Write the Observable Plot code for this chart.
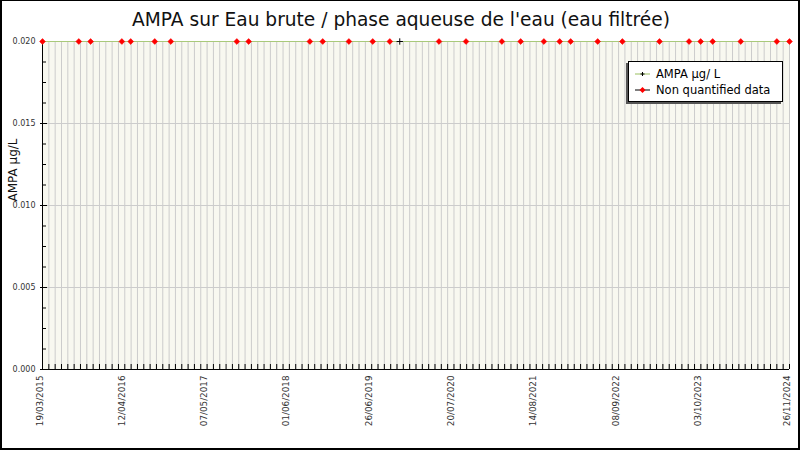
<!DOCTYPE html>
<html>
<head>
<meta charset="utf-8">
<script src="https://cdn.jsdelivr.net/npm/d3@7"></script>
<script src="https://cdn.jsdelivr.net/npm/@observablehq/plot@0.6"></script>
<style>
  html, body { margin: 0; padding: 0; background: white; }
  #wrap { position: relative; width: 800px; height: 450px; overflow: hidden; font-family: "DejaVu Sans", sans-serif; }
  #border { position: absolute; left: 0; top: 0; width: 800px; height: 450px; box-sizing: border-box; border: 2px solid #000; border-top-width: 1px; pointer-events: none; }
  #legend { position: absolute; left: 628px; top: 61px; width: 155px; height: 41px; box-sizing: border-box;
    background: #fff; border: 1px solid #000; box-shadow: -2px 2px 0 #555; font-size: 11.5px; color: #000; }
  .row { position: absolute; left: 5px; height: 14px; display: flex; align-items: center; white-space: nowrap; }
  .row svg { margin-right: 5px; }
</style>
</head>
<body>
<div id="wrap"></div>
<script>
// ---- data ----
const chartTitle = "AMPA sur Eau brute / phase aqueuse de l'eau (eau filtrée)";
const yLabel = "AMPA µg/L";
const seriesName = "AMPA µg/ L";
const nqName = "Non quantified data";

const sampleDates = [
  "2015-03-19","2015-09-07","2015-11-02","2016-03-29","2016-05-10","2016-09-01","2016-11-16",
  "2017-09-25","2017-11-20","2018-09-06","2018-11-06","2019-03-10","2019-07-01","2019-09-20",
  "2019-11-06","2020-05-10","2020-09-15","2021-03-04","2021-06-01","2021-09-19","2021-12-03",
  "2022-01-24","2022-06-01","2022-09-26","2023-03-21","2023-08-08","2023-10-02","2023-11-28",
  "2024-04-09","2024-09-27","2024-11-26"
];
const ampaValues = [
  0.02,0.02,0.02,0.02,0.02,0.02,0.02,
  0.02,0.02,0.02,0.02,0.02,0.02,0.02,
  0.02,0.02,0.02,0.02,0.02,0.02,0.02,
  0.02,0.02,0.02,0.02,0.02,0.02,0.02,
  0.02,0.02,0.02
];
// 1 = non quantified (below quantification limit), 0 = quantified
const nonQuantified = [
  1,1,1,1,1,1,1,
  1,1,1,1,1,1,1,
  0,1,1,1,1,1,1,
  1,1,1,1,1,1,1,
  1,1,1
];
const xTickLabels = ["2015-03-19","2016-04-12","2017-05-07","2018-06-01","2019-06-26",
                     "2020-07-20","2021-08-14","2022-09-08","2023-10-03","2024-11-26"];
const yTicks = [0, 0.005, 0.010, 0.015, 0.020];
const yDomain = [0, 0.02];

// ---- build ----
const parse = d3.utcParse("%Y-%m-%d");
const data = sampleDates.map((d, i) => ({date: parse(d), value: ampaValues[i], nq: nonQuantified[i]}));
const labelDates = xTickLabels.map(parse);
const xStart = labelDates[0], xEnd = labelDates[labelDates.length - 1];
const gridDates = [];
for (let t = xStart; t <= xEnd; t = d3.utcDay.offset(t, 30)) gridDates.push(t);
const yMinor = d3.range(0, 0.02 + 1e-9, 0.00125);
const fmtDate = d3.utcFormat("%d/%m/%Y");

const mL = 42, mR = 11, mT = 41, mB = 81;
const fw = 800 - mL - mR, fh = 450 - mT - mB;

const chart = Plot.plot({
  width: 800, height: 450,
  marginLeft: mL, marginRight: mR, marginTop: mT, marginBottom: mB,
  style: {fontFamily: "DejaVu Sans, sans-serif", fontSize: "8px", background: "transparent", overflow: "visible"},
  x: {type: "utc", domain: [xStart, xEnd], axis: null},
  y: {domain: yDomain, axis: null},
  marks: [
    Plot.frame({fill: "#f8f8f0", stroke: null}),
    Plot.ruleX(gridDates, {stroke: "#cccccc", strokeWidth: 1}),
    Plot.ruleY(yTicks, {stroke: "#cccccc", strokeWidth: 1}),
    // inward ticks
    Plot.tickX(gridDates, {x: d => d, insetTop: fh - 5, stroke: "#000"}),
    Plot.tickY(yMinor, {y: d => d, insetRight: fw - 4, stroke: "#000"}),
    Plot.tickY(yTicks, {y: d => d, insetRight: fw - 5, stroke: "#000"}),
    Plot.axisY({ticks: yTicks, tickFormat: d3.format(".3f"), tickSize: 2, tickPadding: 5, label: null, fill: "#333", fontSize: 8}),
    Plot.ruleX([xStart], {stroke: "#000"}),
    Plot.ruleY([0], {stroke: "#000"}),
    Plot.text(labelDates, {x: d => d, text: d => fmtDate(d), frameAnchor: "bottom", rotate: -90, textAnchor: "end", dy: 6, fontSize: 8.8, fill: "#333"}),
    // series
    Plot.line(data, {x: "date", y: "value", stroke: "#a9c97a", strokeWidth: 1.2}),
    Plot.dot(data.filter(d => !d.nq), {x: "date", y: "value", symbol: "plus", r: 2.2, stroke: "#000", strokeWidth: 1}),
    Plot.dot(data.filter(d => d.nq), {x: "date", y: "value", symbol: "diamond2", r: 2.6, fill: "#ff0000", stroke: "#ff0000", strokeWidth: 0.6}),
    // titles
    Plot.text([chartTitle], {frameAnchor: "top", dx: -15, dy: -21, fontSize: 18.6, fill: "#111", lineAnchor: "middle"}),
    Plot.text([yLabel], {frameAnchor: "left", rotate: -90, dx: -29, dy: -4, fontSize: 12, fill: "#111"})
  ]
});

const wrap = document.getElementById("wrap");
wrap.appendChild(chart);

// legend
const legend = document.createElement("div");
legend.id = "legend";
legend.innerHTML = `
  <div class="row" style="top:5px">
    <svg width="17" height="10"><line x1="1" y1="5" x2="16" y2="5" stroke="#a9c97a" stroke-width="1.2"/>
      <line x1="8.5" y1="3" x2="8.5" y2="7" stroke="#000"/><line x1="6.5" y1="5" x2="10.5" y2="5" stroke="#000"/></svg>
    <span>${seriesName}</span></div>
  <div class="row" style="top:21px">
    <svg width="17" height="10"><line x1="1" y1="5" x2="16" y2="5" stroke="#000" stroke-width="1"/>
      <path d="M8.5 2 L11.5 5 L8.5 8 L5.5 5 Z" fill="#ff0000"/></svg>
    <span>${nqName}</span></div>`;
wrap.appendChild(legend);

const border = document.createElement("div");
border.id = "border";
wrap.appendChild(border);
</script>
</body>
</html>
